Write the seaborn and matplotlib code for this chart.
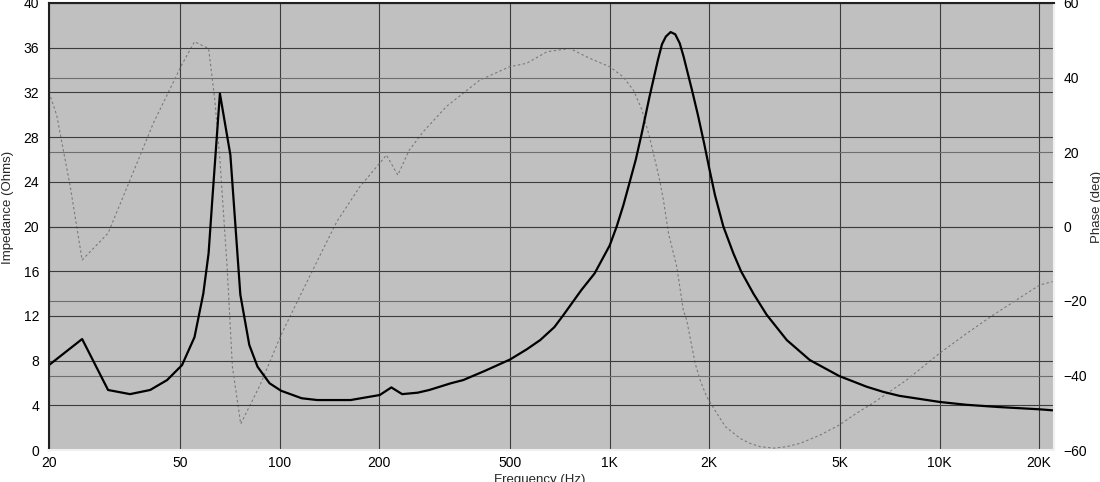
import numpy as np
import pandas as pd
import matplotlib
matplotlib.use("Agg")
import matplotlib.pyplot as plt
from matplotlib.ticker import FixedLocator, FixedFormatter, NullLocator
import seaborn as sns

# ---- data ----
freq_imp = [20, 25.2, 30.2, 35.2, 40.5, 45.6, 50.6, 55.2, 58.7, 60.9, 62.5, 65.9, 70.9, 76.0,
            80.9, 85.7, 93.2, 101, 116.6, 130, 164, 201, 218, 235, 262, 284, 330, 360, 420,
            499, 560, 616, 680, 725, 820, 900, 1000, 1050, 1100, 1148, 1200, 1250, 1320, 1400,
            1440, 1480, 1530, 1580, 1630, 1675, 1776, 1850, 1934, 2000, 2085, 2210, 2370, 2500,
            2725, 2990, 3440, 4040, 4960, 6010, 6750, 7540, 10000, 12000, 15000, 20100, 22000]
impedance = [7.6, 9.93, 5.37, 5.0, 5.37, 6.26, 7.6, 10.1, 14.0, 17.6, 22.4, 31.9, 26.4, 13.9,
             9.4, 7.45, 5.97, 5.3, 4.63, 4.47, 4.47, 4.92, 5.6, 5.0, 5.13, 5.37, 5.97, 6.26,
             7.1, 8.1, 9.0, 9.84, 11.0, 12.1, 14.3, 15.8, 18.3, 20.0, 21.9, 23.9, 26.0, 28.3,
             31.6, 34.9, 36.3, 37.0, 37.4, 37.2, 36.4, 35.2, 32.2, 30.0, 27.4, 25.3, 22.8,
             20.0, 17.6, 16.0, 14.0, 12.1, 9.84, 8.05, 6.62, 5.66, 5.2, 4.85, 4.3, 4.05, 3.85,
             3.64, 3.55]

freq_phase = [20, 21.1, 23.2, 25.2, 30.2, 35.2, 41.4, 50.5, 55.2, 60.9, 63.6, 65.9, 69.3, 71.9,
              76.2, 87.3, 101, 115, 135, 149, 175, 201, 210.6, 228, 247, 272, 320, 404, 498,
              560, 645, 757, 872, 1000, 1097, 1180, 1250, 1320, 1413, 1455, 1507, 1597, 1671,
              1711, 1815, 1879, 1968, 2110, 2240, 2485, 2660, 2855, 3140, 3440, 3780, 4340,
              4960, 5600, 6260, 7940, 10000, 12080, 14500, 17100, 20100, 22000]
phase = [36, 29.9, 10.7, -9.0, -1.8, 12.5, 27.7, 43.4, 49.6, 47.8, 34, 17.9, -10.8, -37.6,
         -53, -42.5, -29.1, -18.8, -6.3, 1.3, 10.7, 17, 19.2, 13.8, 20.5, 25.4, 32.2, 39.3,
         42.9, 43.8, 46.9, 47.8, 45.1, 42.9, 40.2, 36.6, 31.5, 24.1, 13, 7.1, -1.8, -10.8,
         -22.4, -25.1, -36.7, -41.2, -45.7, -50.1, -53.7, -56.9, -58.2, -59.1, -59.5, -59.1,
         -58.2, -56.0, -53.3, -50.1, -47.5, -41.2, -34, -28.7, -23.8, -19.7, -15.7, -14.8]

x_ticks = [20, 50, 100, 200, 500, 1000, 2000, 5000, 10000, 20000]
x_labels = ["20", "50", "100", "200", "500", "1K", "2K", "5K", "10K", "20K"]
imp_ticks = [0, 4, 8, 12, 16, 20, 24, 28, 32, 36, 40]
phase_ticks = [-60, -40, -20, 0, 20, 40, 60]

df_imp = pd.DataFrame({"f": freq_imp, "z": impedance})
df_ph = pd.DataFrame({"f": freq_phase, "p": phase})

# ---- figure ----
sns.set_style("white")
plt.rcParams["font.family"] = ["Liberation Sans", "DejaVu Sans"]
fs_tick = 10
fs_lab = 9.5

fig = plt.figure(figsize=(11, 4.82), dpi=100)
rect = [49 / 1100, 1 - 450 / 482, (1054 - 49) / 1100, (450 - 3) / 482]
ax2 = fig.add_axes(rect)             # phase axis (bottom layer, carries background)
ax = fig.add_axes(rect, sharex=ax2)  # impedance axis (top layer)
ax.patch.set_visible(False)
ax2.set_facecolor("#c0c0c0")

# phase curve
sns.lineplot(data=df_ph, x="f", y="p", ax=ax2, color="#7a7a7a", linewidth=0.8,
             linestyle=(0, (2.2, 2.2)), sort=False)
# impedance curve
sns.lineplot(data=df_imp, x="f", y="z", ax=ax, color="black", linewidth=1.6, sort=False)

for a in (ax, ax2):
    a.set_xscale("log")
    a.set_xlim(20, 22200)
    a.set_xlabel("")
    a.set_ylabel("")
    a.tick_params(length=0)

ax.set_ylim(0, 40)
ax2.set_ylim(-60, 60)

# phase axis on the right
ax2.yaxis.tick_right()
ax2.yaxis.set_major_locator(FixedLocator(phase_ticks))
ax2.tick_params(axis="y", labelsize=fs_tick, pad=7, colors="black")
ax2.xaxis.set_major_locator(FixedLocator(x_ticks))
ax2.xaxis.set_minor_locator(NullLocator())
ax2.tick_params(axis="x", labelbottom=False)
ax2.grid(True, axis="y", color="#6e6e6e", linewidth=0.8)
ax2.grid(True, axis="x", color="#3c3c3c", linewidth=0.8)
for s in ax2.spines.values():
    s.set_visible(False)

# impedance axis on the left
ax.yaxis.set_major_locator(FixedLocator(imp_ticks))
ax.xaxis.set_major_locator(FixedLocator(x_ticks))
ax.xaxis.set_major_formatter(FixedFormatter(x_labels))
ax.xaxis.set_minor_locator(NullLocator())
ax.tick_params(axis="y", labelsize=fs_tick, pad=7, colors="black")
ax.tick_params(axis="x", labelsize=fs_tick, pad=4, colors="black")
ax.grid(True, axis="y", color="#3c3c3c", linewidth=0.8)
ax.set_axisbelow(True)

# sunken 3D border: dark top/left, light bottom/right
for side in ("top", "left"):
    ax.spines[side].set_color("#202020")
    ax.spines[side].set_linewidth(1.5)
for side in ("bottom", "right"):
    ax.spines[side].set_color("#f0f0f0")
    ax.spines[side].set_linewidth(1.5)

# axis titles (partly cut by the image edge, as in the reference)
fig.text(8 / 1100, 1 - 207 / 482, "Impedance (Ohms)", rotation=90, ha="center", va="center",
         fontsize=fs_lab)
fig.text(1097 / 1100, 1 - 207 / 482, "Phase (deg)", rotation=90, ha="center", va="center",
         fontsize=fs_lab)
fig.text(540 / 1100, 1 - 474 / 482, "Frequency (Hz)", ha="center", va="top", fontsize=fs_lab)

fig.savefig("out.png", dpi=100, facecolor="white")
